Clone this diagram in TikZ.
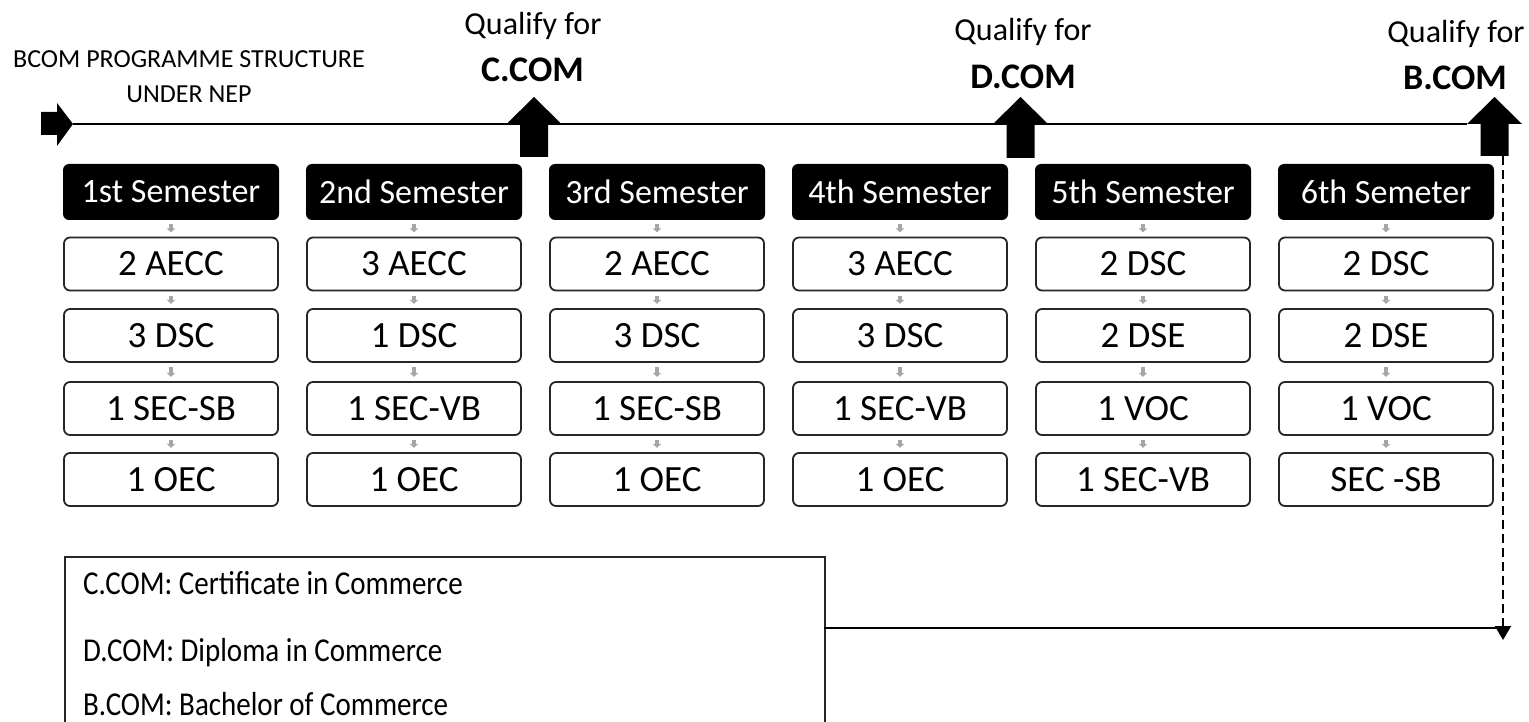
\documentclass[tikz,border=0pt]{standalone}
\usepackage{fontspec}
\setmainfont{Carlito}
\usetikzlibrary{arrows.meta}
\begin{document}
\begin{tikzpicture}[x=1pt,y=-1pt,
  sem/.style={fill=black, text=white, rounded corners=6pt, minimum width=216pt, minimum height=56pt, inner sep=0pt, font=\fontsize{34}{40}\selectfont},
  cbox/.style={draw=black!85, line width=1.8pt, fill=white, rounded corners=6pt, minimum width=214pt, minimum height=53pt, inner sep=0pt, font=\fontsize{37}{44}\selectfont},
  garrow/.style={draw=black!35, line width=3.5pt, -{Triangle[width=8.5pt,length=4pt]}, shorten <=4.3pt, shorten >=4.3pt},
  qual/.style={anchor=base, font=\fontsize{32}{38}\selectfont},
  deg/.style={anchor=base, font=\bfseries\fontsize{36}{43}\selectfont},
  legtext/.style={anchor=base west, inner sep=0pt, font=\fontsize{29}{35}\selectfont},
  thick line/.style={line width=2pt, draw=black}
]
\useasboundingbox (0,0) rectangle (1529,722);

% title
\node[anchor=base, font=\fontsize{26}{32}\selectfont] (title1) at (189,68) {BCOM PROGRAMME STRUCTURE};
\node[anchor=base, font=\fontsize{26}{32}\selectfont] (title2) at (189,103) {UNDER NEP};

% timeline
\coordinate (tl0) at (73,124);
\coordinate (tl1) at (1467,124);
\draw[thick line] (tl0) -- (tl1);
\fill (41,112) -- (57,112) -- (57,103) -- (73,124) -- (57,146) -- (57,135) -- (41,135) -- cycle;

% up arrows
\foreach \cx/\by in {534/157, 1020.5/158, 1494.5/156}{
  \fill ({\cx-14},\by) -- ({\cx-14},124) -- ({\cx-27.5},124) -- (\cx,97) -- ({\cx+27.5},124) -- ({\cx+14},124) -- ({\cx+14},\by) -- cycle;
}

% qualify labels
\node[qual] (q1) at (533,35) {Qualify for};
\node[deg] (d1) at (532.5,82) {C.COM};
\node[qual] (q2) at (1023,41) {Qualify for};
\node[deg] (d2) at (1023,89) {D.COM};
\node[qual] (q3) at (1456,43) {Qualify for};
\node[deg] (d3) at (1455,90) {B.COM};

% semesters
\foreach \i/\sl/\a/\b/\c/\d in {
  1/1st Semester/2 AECC/3 DSC/1 SEC-SB/1 OEC,
  2/2nd Semester/3 AECC/1 DSC/1 SEC-VB/1 OEC,
  3/3rd Semester/2 AECC/3 DSC/1 SEC-SB/1 OEC,
  4/4th Semester/3 AECC/3 DSC/1 SEC-VB/1 OEC,
  5/5th Semester/2 DSC/2 DSE/1 VOC/1 SEC-VB,
  6/6th Semeter/2 DSC/2 DSE/1 VOC/SEC -SB}{
  \pgfmathsetmacro\cx{171+243*(\i-1)}
  \node[sem] (s\i) at (\cx,192) {\sl};
  \node[cbox] (c\i a) at (\cx,264) {\a};
  \node[cbox] (c\i b) at (\cx,335.5) {\b};
  \node[cbox] (c\i c) at (\cx,408.5) {\c};
  \node[cbox] (c\i d) at (\cx,479.5) {\d};
  \draw[garrow] (s\i) -- (c\i a);
  \draw[garrow] (c\i a) -- (c\i b);
  \draw[garrow] (c\i b) -- (c\i c);
  \draw[garrow] (c\i c) -- (c\i d);
}

% legend
\node[draw=black!85, line width=1.5pt, anchor=north west, minimum width=760pt, minimum height=200pt, inner sep=0pt] (legend) at (64,556) {};
\node[legtext] (l1) at (83,594) {\scalebox{1}[1.15]{C.COM: Certificate in Commerce}};
\node[legtext] (l2) at (83,661) {\scalebox{1}[1.15]{D.COM: Diploma in Commerce}};
\node[legtext] (l3) at (83,715) {\scalebox{1}[1.15]{B.COM: Bachelor of Commerce}};

% dashed connector
\coordinate (dtop) at (1503,156);
\coordinate (dend) at (1503,640);
\coordinate (hj) at (824,628);
\coordinate (hend) at (1496,628);
\draw[line width=2pt, dash pattern=on 9pt off 5pt, -{Triangle[width=16pt,length=14pt]}] (dtop) -- (dend);
\draw[thick line] (hj) -- (hend);
\end{tikzpicture}
\end{document}
